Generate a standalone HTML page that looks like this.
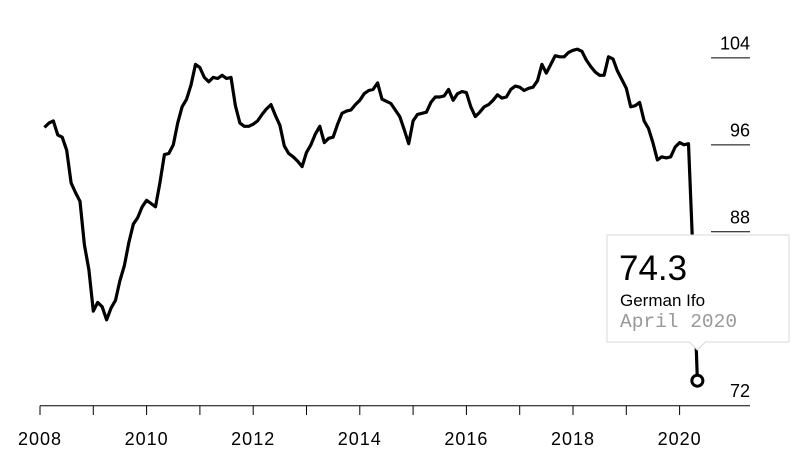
<!DOCTYPE html>
<html><head><meta charset="utf-8"><style>
body{margin:0;background:#fff;}
svg{display:block;font-family:"Liberation Sans",sans-serif;}
</style></head><body>
<svg id="chart" width="800" height="460"></svg>
<script>
const startYear = 2008;
const values = [97.6,98.0,98.2,96.9,96.7,95.5,92.5,91.6,90.8,86.8,84.5,80.7,81.5,81.1,79.9,81.0,81.7,83.5,84.9,87.0,88.7,89.3,90.3,90.9,90.6,90.3,92.5,95.1,95.2,96.0,98.0,99.5,100.2,101.5,103.4,103.1,102.2,101.8,102.2,102.1,102.4,102.1,102.2,99.6,98.0,97.7,97.7,97.9,98.2,98.8,99.3,99.7,98.7,97.8,95.9,95.2,94.9,94.5,94.0,95.3,96.0,97.0,97.7,96.2,96.6,96.7,97.9,98.9,99.1,99.2,99.7,100.1,100.7,101.0,101.1,101.7,100.2,100.0,99.8,99.2,98.6,97.4,96.1,98.2,98.8,98.9,99.0,99.9,100.4,100.4,100.5,101.1,100.1,100.7,100.9,100.8,99.5,98.6,99.0,99.5,99.7,100.1,100.6,100.3,100.4,101.1,101.4,101.3,101.0,101.2,101.3,101.9,103.4,102.6,103.4,104.2,104.1,104.1,104.5,104.7,104.8,104.6,103.8,103.2,102.7,102.4,102.4,104.1,103.9,102.8,102.0,101.2,99.5,99.6,99.9,98.2,97.5,96.2,94.6,94.9,94.8,94.9,95.8,96.2,96.0,96.1,86.1,74.3];
const yTicks = [72,88,96,104];
const xTickYears = [2008,2009,2010,2011,2012,2013,2014,2015,2016,2017,2018,2019,2020];
const xLabelYears = [2008,2010,2012,2014,2016,2018,2020];
const calloutValue = "74.3";
const calloutName = "German Ifo";
const calloutDate = "April 2020";

const NS = "http://www.w3.org/2000/svg";
const svg = document.getElementById('chart');
function X(yearFrac){ return 40 + (yearFrac - startYear) * 53.3; }
function Y(v){ return 405.7 - (v - 72) * 10.87; }
function mk(tag, attrs, parent){ const e=document.createElementNS(NS,tag); for(const k in attrs) e.setAttribute(k,attrs[k]); (parent||svg).appendChild(e); return e; }

yTicks.forEach(t=>{
  if(t!==72){
    const l=mk('line',{x1:711,x2:750,y1:Y(t),y2:Y(t),stroke:'#000','stroke-width':1});
    
    
  }
  const tx=mk('text',{x:750,y:Y(t)-8.5,'text-anchor':'end','font-size':18,fill:'#000'});
  tx.textContent=t;
  
  
});
const ax=mk('line',{x1:40,x2:750,y1:405.7,y2:405.7,stroke:'#000','stroke-width':1});


xTickYears.forEach(yr=>{
  const l=mk('line',{x1:X(yr),x2:X(yr),y1:405.7,y2:415,stroke:'#000','stroke-width':1});
  
  
});
xLabelYears.forEach(yr=>{
  const tx=mk('text',{x:X(yr),y:445,'text-anchor':'middle','font-size':18,'letter-spacing':1,fill:'#000'});
  tx.textContent=yr;
  
  
});
const d=values.map((v,i)=>(i?'L':'M')+X(startYear+(i+1)/12).toFixed(1)+','+Y(v).toFixed(1)).join(' ');
const path=mk('path',{d:d,fill:'none',stroke:'#000','stroke-width':3.2,'stroke-linejoin':'round'});


const li=values.length-1;
const cx=X(startYear+(li+1)/12), cy=Y(values[li]);
const c=mk('circle',{cx:cx,cy:cy,r:5.5,fill:'#fff',stroke:'#000','stroke-width':3});


const g=mk('g',{});


mk('path',{d:`M607,235 H789 V342 H${cx+8} L${cx},350 L${cx-8},342 H607 Z`,fill:'#fff',stroke:'#d8d8d8','stroke-width':1},g);
const t1=mk('text',{x:619,y:280,'font-size':35,fill:'#000'},g);
t1.textContent=calloutValue;


const t2=mk('text',{x:620,y:306,'font-size':17,fill:'#000'},g);
t2.textContent=calloutName;


const t3=mk('text',{x:620,y:327,'font-size':19.5,fill:'#999','font-family':'Liberation Mono, monospace'},g);
t3.textContent=calloutDate;


</script>
</body></html>
